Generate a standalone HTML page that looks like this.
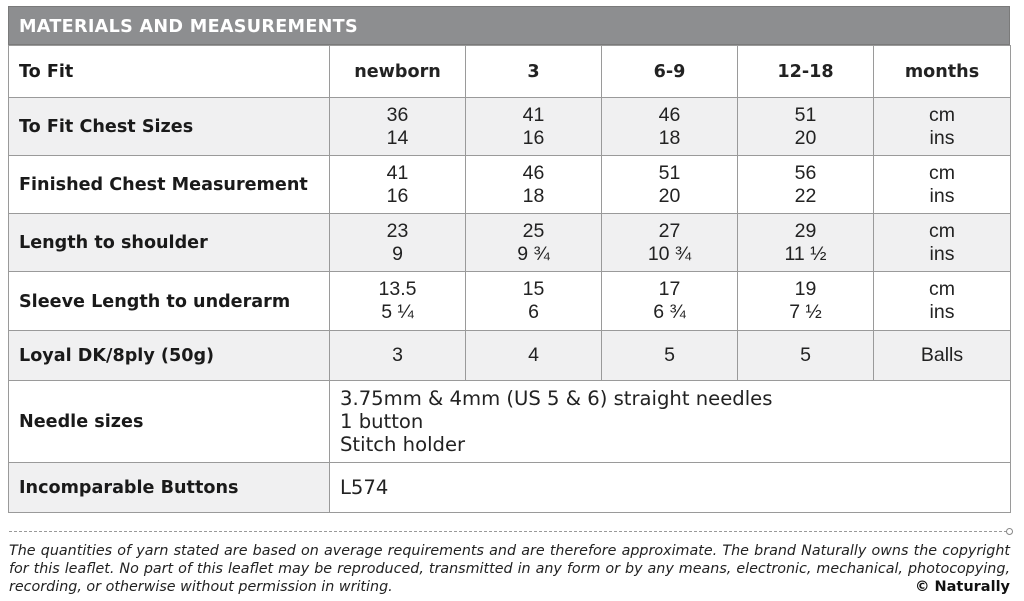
<!DOCTYPE html>
<html><head><meta charset="utf-8"><style>
body{margin:0;width:1024px;height:601px;background:#fff;position:relative;overflow:hidden;font-family:"DejaVu Sans",sans-serif;}
.hdr{position:absolute;left:8px;top:6px;width:1002px;height:39px;background:#8d8e90;border:1px solid #7a7a7a;box-sizing:border-box;color:#fff;font-weight:bold;font-size:17.6px;line-height:40px;padding-left:10px;letter-spacing:0.3px}
table{position:absolute;left:8px;top:45px;border-collapse:collapse;width:1002px;table-layout:fixed}
td{border:1.5px solid #9a9a9a;padding:0;text-align:center;font-family:"Liberation Sans",sans-serif;font-size:19.5px;color:#222;line-height:23px}
td.l{text-align:left;padding-left:10px;padding-top:2px;font-family:"DejaVu Sans",sans-serif;font-weight:bold;font-size:17.6px;color:#1a1a1a}
td.h{font-family:"DejaVu Sans",sans-serif;font-weight:bold;font-size:17.6px;padding-top:2px}
tr.g td{background:#f0f0f1}
td.t{text-align:left;padding-left:10px;font-family:"DejaVu Sans",sans-serif;font-size:19.6px;line-height:23px}
.dash{position:absolute;left:9px;top:531px;width:998px;border-top:1.5px dashed #999}
.dot{position:absolute;left:1006px;top:528px;width:5px;height:5px;border:1px solid #888;border-radius:50%}
.f{position:absolute;left:9px;width:1001px;font-style:italic;font-size:14.3px;color:#222;text-align:justify;text-align-last:justify;line-height:18px;white-space:nowrap}
</style></head><body>
<div class="hdr">MATERIALS AND MEASUREMENTS</div>
<table>
<colgroup><col style="width:321px"><col style="width:136px"><col style="width:136px"><col style="width:136px"><col style="width:136px"><col style="width:137px"></colgroup>
<tr style="height:52px"><td class="l">To Fit</td><td class="h">newborn</td><td class="h">3</td><td class="h">6-9</td><td class="h">12-18</td><td class="h">months</td></tr>
<tr class="g" style="height:58px"><td class="l">To Fit Chest Sizes</td><td>36<br>14</td><td>41<br>16</td><td>46<br>18</td><td>51<br>20</td><td>cm<br>ins</td></tr>
<tr style="height:58px"><td class="l">Finished Chest Measurement</td><td>41<br>16</td><td>46<br>18</td><td>51<br>20</td><td>56<br>22</td><td>cm<br>ins</td></tr>
<tr class="g" style="height:58px"><td class="l">Length to shoulder</td><td>23<br>9</td><td>25<br>9 ¾</td><td>27<br>10 ¾</td><td>29<br>11 ½</td><td>cm<br>ins</td></tr>
<tr style="height:59px"><td class="l">Sleeve Length to underarm</td><td>13.5<br>5 ¼</td><td>15<br>6</td><td>17<br>6 ¾</td><td>19<br>7 ½</td><td>cm<br>ins</td></tr>
<tr class="g" style="height:50px"><td class="l">Loyal DK/8ply (50g)</td><td>3</td><td>4</td><td>5</td><td>5</td><td>Balls</td></tr>
<tr style="height:82px"><td class="l">Needle sizes</td><td class="t" colspan="5">3.75mm &amp; 4mm (US 5 &amp; 6) straight needles<br>1 button<br>Stitch holder</td></tr>
<tr class="g" style="height:50px"><td class="l">Incomparable Buttons</td><td class="t" colspan="5" style="background:#fff">L574</td></tr>
</table>
<div class="dash"></div><div class="dot"></div>
<div class="f" style="top:542px">The quantities of yarn stated are based on average requirements and are therefore approximate. The brand Naturally owns the copyright</div>
<div class="f" style="top:560px">for this leaflet. No part of this leaflet may be reproduced, transmitted in any form or by any means, electronic, mechanical, photocopying,</div>
<div class="f" style="top:578px;text-align-last:left">recording, or otherwise without permission in writing.</div>
<div style="position:absolute;right:14px;top:578px;font-weight:bold;font-size:14.5px;line-height:18px;color:#111">© Naturally</div>
</body></html>
